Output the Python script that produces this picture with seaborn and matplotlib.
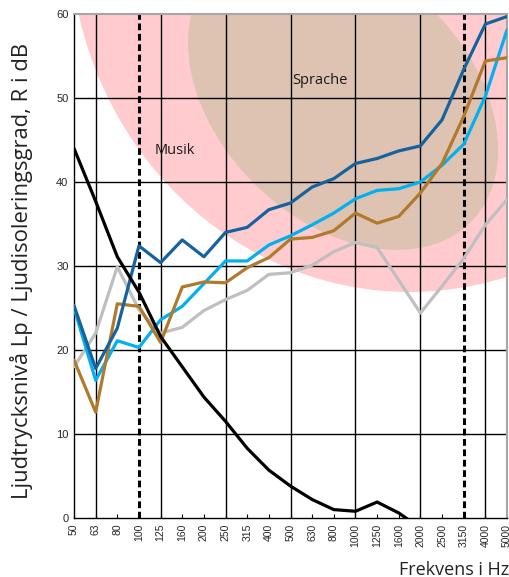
import numpy as np
import pandas as pd
import matplotlib
matplotlib.use("Agg")
import matplotlib.pyplot as plt
from matplotlib.patches import Ellipse
from matplotlib.transforms import Affine2D
import seaborn as sns

freqs = ["50", "63", "80", "100", "125", "160", "200", "250", "315", "400", "500",
         "630", "800", "1000", "1250", "1600", "2000", "2500", "3150", "4000", "5000"]

black = [44.0, 37.7, 31.1, 26.9, 21.6, 18.0, 14.4, 11.5, 8.3, 5.7, 3.8,
         2.2, 1.0, 0.8, 1.9, 0.6, -1.2, -3.0, -4.5, -6.0, -7.0]
dark_blue = [25.3, 17.8, 22.6, 32.4, 30.4, 33.1, 31.1, 34.0, 34.6, 36.7, 37.5,
             39.4, 40.4, 42.2, 42.8, 43.7, 44.3, 47.4, 53.4, 58.8, 59.7]
light_blue = [25.0, 16.4, 21.1, 20.3, 23.6, 25.2, 27.9, 30.6, 30.6, 32.5, 33.6,
              34.9, 36.3, 38.0, 39.0, 39.2, 40.0, 42.0, 44.5, 50.2, 58.1]
brown = [18.8, 12.6, 25.5, 25.2, 20.9, 27.5, 28.1, 28.0, 29.8, 31.0, 33.2,
         33.4, 34.2, 36.3, 35.1, 35.9, 38.7, 42.2, 47.8, 54.4, 54.8]
gray = [18.0, 22.0, 29.9, 24.8, 22.0, 22.7, 24.7, 26.0, 27.1, 29.0, 29.2,
        30.1, 31.7, 32.8, 32.2, 28.3, 24.4, 27.6, 30.9, 34.9, 37.9]

series = {"gray": gray, "light_blue": light_blue, "brown": brown,
          "dark_blue": dark_blue, "black": black}
palette = {"gray": "#BFBFBF", "light_blue": "#00B0F0", "brown": "#B07A2C",
           "dark_blue": "#16629F", "black": "#000000"}

rows = []
for name, vals in series.items():
    for i, v in enumerate(vals):
        rows.append({"idx": i, "freq": freqs[i], "value": v, "series": name})
df = pd.DataFrame(rows)

sns.set_style("white")
plt.rcParams["font.family"] = ["Liberation Sans", "DejaVu Sans"]

fig = plt.figure(figsize=(5.09, 5.77), dpi=100)
ax = fig.add_axes([74 / 509, 59 / 577, 433 / 509, 504 / 577])

# px per category / per dB, used to draw the shaded areas as true ellipses
XS, YS = 21.63, 8.4


def add_ellipse(cx, cy, a_px, b_px, angle, color):
    e = Ellipse((cx * XS, cy * YS), 2 * a_px, 2 * b_px, angle=angle,
                facecolor=color, edgecolor="none", zorder=0.5,
                transform=Affine2D().scale(1 / XS, 1 / YS) + ax.transData)
    ax.add_patch(e)


add_ellipse(15.5, 70.0, 340, 362, 0, "#FFCBCE")
add_ellipse(12.43, 50.18, 179, 124.5, -44.2, "#DFC3B2")

ax.text(4.67, 43.7, "Musik", ha="center", va="center", fontsize=10.5,
        family=["Open Sans", "DejaVu Sans"], color="#1a1a1a", zorder=2)
ax.text(11.37, 52.1, "Sprache", ha="center", va="center", fontsize=10.5,
        family=["Open Sans", "DejaVu Sans"], color="#1a1a1a", zorder=2)

# grid
for y in [10, 20, 30, 40, 50]:
    ax.axhline(y, color="black", lw=1.0, zorder=1)
for i in [1, 4, 7, 10, 13, 16, 19]:
    ax.axvline(i, color="black", lw=1.0, zorder=1)
for i in [3, 18]:
    ax.axvline(i, color="black", lw=2.2, ls=(0, (2.2, 1.2)), zorder=2)

sns.lineplot(data=df, x="idx", y="value", hue="series", palette=palette,
             hue_order=list(series.keys()), sort=False, lw=2.3,
             legend=False, ax=ax, zorder=3)

ax.set_xlim(0, 20)
ax.set_ylim(0, 60)
ax.set_xticks(range(len(freqs)))
ax.set_xticklabels(freqs, rotation=90, fontsize=7.5)
ax.set_yticks(range(0, 61, 10))
ax.tick_params(axis="y", labelsize=8, length=0, pad=4)
ax.tick_params(axis="x", direction="in", length=3, width=0.8, pad=4,
               bottom=True, color="black")
ax.set_xlabel("")
ax.set_ylabel("")

for s in ["left", "bottom"]:
    ax.spines[s].set_color("black")
    ax.spines[s].set_linewidth(1.0)
for s in ["top", "right"]:
    ax.spines[s].set_color("#A6A6A6")
    ax.spines[s].set_linewidth(1.5)

fig.text(22 / 509, 1 - 271 / 577, "Ljudtrycksnivå Lp / Ljudisoleringsgrad, R i dB",
         rotation=90, ha="center", va="center", fontsize=15.8,
         family=["Open Sans", "DejaVu Sans"], color="#222222")
fig.text(399 / 509, 1 - 575 / 577, "Frekvens i Hz", ha="left", va="baseline",
         fontsize=13, family=["Open Sans", "DejaVu Sans"], color="#222222")

fig.savefig("out.png", dpi=100)
